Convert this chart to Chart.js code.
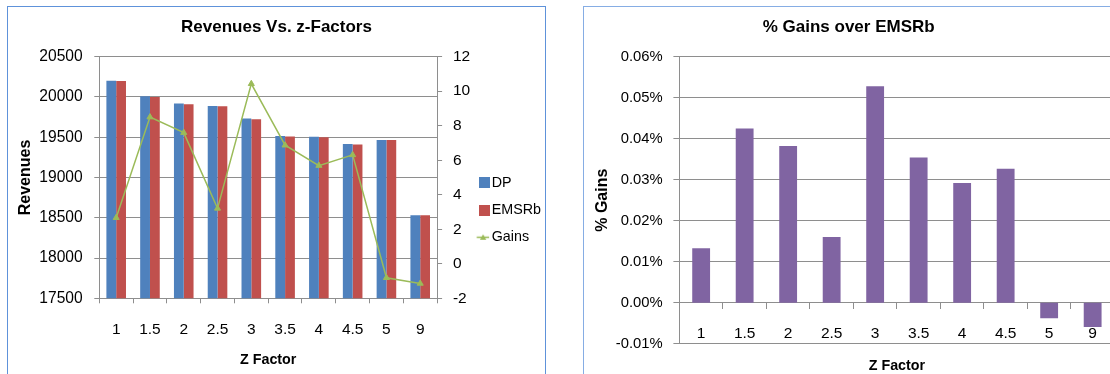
<!DOCTYPE html>
<html>
<head>
<meta charset="utf-8">
<script src="https://cdn.jsdelivr.net/npm/chart.js@4.4.1/dist/chart.umd.min.js"></script>
<style>
  html, body { margin: 0; padding: 0; background: #fff; overflow: hidden; width: 1110px; height: 374px; }
  .frame { position: absolute; box-sizing: border-box; border: 1px solid #5E92DA; height: 430px; }
  #frameRev { left: 7px; top: 6px; width: 539px; }
  #frameGain { left: 583px; top: 6px; width: 560px; border-color: #86ADE4; }
  canvas { position: absolute; }
  #revChart { left: 7px; top: 6px; }
  #gainChart { left: 583px; top: 6px; }
</style>
</head>
<body>
<div class="frame" id="frameRev"></div>
<div class="frame" id="frameGain"></div>
<canvas id="revChart" width="539" height="408"></canvas>
<canvas id="gainChart" width="538" height="368"></canvas>
<script>
// z-factor categories shared by both charts
const zFactors = ['1', '1.5', '2', '2.5', '3', '3.5', '4', '4.5', '5', '9'];

// total revenues per method
const revenueDP    = [20200, 20008, 19919, 19887, 19732, 19516, 19505, 19416, 19466, 18530];
const revenueEMSRb = [20197, 19999, 19911, 19884, 19722, 19509, 19499, 19410, 19467, 18531];

// absolute gain of DP over EMSRb (secondary axis)
const gains = [2.67, 8.50, 7.60, 3.21, 10.43, 6.87, 5.69, 6.31, -0.81, -1.14];

// gain of DP over EMSRb, in percent
const pctGains = [0.0133, 0.0425, 0.0382, 0.0160, 0.0528, 0.0354, 0.0292, 0.0327, -0.0038, -0.0059];

// axis ranges
const revenueRange = { min: 17500, max: 20500, step: 500 };
const gainRange = { min: -2, max: 12, step: 2 };
const pctRange = { min: -0.01, max: 0.06, step: 0.01 };

const gridGray = '#8E8E8E';
const sans = "'Liberation Sans', Arial, sans-serif";

// legend swatches, drawn centred on the legend marker position
function squareMark(color) {
  const c = document.createElement('canvas');
  c.width = 11; c.height = 11;
  const g = c.getContext('2d');
  g.fillStyle = color;
  g.fillRect(0, 0, 11, 11);
  return c;
}
function lineMark(color) {
  const c = document.createElement('canvas');
  c.width = 24; c.height = 9;
  const g = c.getContext('2d');
  g.strokeStyle = color; g.fillStyle = color; g.lineWidth = 1.5;
  g.beginPath(); g.moveTo(4.6, 4.5); g.lineTo(17, 4.5); g.stroke();
  g.beginPath(); g.moveTo(11, 1.5); g.lineTo(14.2, 7); g.lineTo(7.8, 7); g.closePath(); g.fill();
  return c;
}

const colDP = '#4F81BD', colEMSRb = '#C0504D', colGains = '#9BBB59', colPct = '#8064A2';
const legendMarks = [squareMark(colDP), squareMark(colEMSRb), lineMark(colGains)];

// keeps the right-hand legend column at a fixed width
const legendColumnWidth = 75.4;
const fixedLegendWidth = {
  id: 'fixedLegendWidth',
  afterInit(chart) {
    const lg = chart.legend;
    if (!lg) return;
    const fit = lg.fit;
    lg.fit = function () { fit.call(this); this.width = legendColumnWidth; };
  }
};

new Chart(document.getElementById('revChart'), {
  type: 'bar',
  data: {
    labels: zFactors,
    datasets: [
      { label: 'DP', data: revenueDP, backgroundColor: colDP, yAxisID: 'y', order: 2,
        categoryPercentage: 0.58, barPercentage: 1 },
      { label: 'EMSRb', data: revenueEMSRb, backgroundColor: colEMSRb, yAxisID: 'y', order: 2,
        categoryPercentage: 0.58, barPercentage: 1 },
      { type: 'line', label: 'Gains', data: gains, yAxisID: 'y1', order: 1,
        borderColor: colGains, backgroundColor: colGains, borderWidth: 1.5, tension: 0,
        pointStyle: 'triangle', pointRadius: 3.5, pointBorderWidth: 1,
        pointBackgroundColor: colGains, pointBorderColor: colGains }
    ]
  },
  plugins: [fixedLegendWidth],
  options: {
    responsive: false, animation: false, devicePixelRatio: 1,
    layout: { padding: 0 },
    plugins: {
      title: { display: true, text: 'Revenues Vs. z-Factors', color: '#000',
        font: { family: sans, size: 17, weight: 'bold' }, padding: { top: 10.8, bottom: 19.5 } },
      legend: {
        position: 'right', align: 'center',
        labels: {
          usePointStyle: true, pointStyleWidth: 1, boxWidth: 11, boxHeight: 11, padding: 13, color: '#000',
          font: { family: sans, size: 14.3 },
          generateLabels: chart => chart.data.datasets.map((ds, i) => ({
            text: ds.label, fillStyle: ds.backgroundColor, strokeStyle: ds.backgroundColor,
            lineWidth: 0, pointStyle: legendMarks[i], hidden: false, datasetIndex: i, fontColor: '#000'
          }))
        }
      },
      tooltip: { enabled: false }
    },
    scales: {
      x: {
        grid: { offset: true, drawOnChartArea: false, tickLength: 5, color: gridGray },
        border: { color: gridGray },
        ticks: { color: '#000', font: { family: sans, size: 15.5 }, padding: 17.4, maxRotation: 0, autoSkip: false },
        title: { display: true, text: 'Z Factor', color: '#000',
          font: { family: sans, size: 14.3, weight: 'bold' }, padding: { top: 0, bottom: 45 } },
        afterFit: s => { s.height = 115.7; }
      },
      y: {
        min: revenueRange.min, max: revenueRange.max,
        ticks: { stepSize: revenueRange.step, color: '#000', font: { family: sans, size: 15.6 }, padding: 11.6,
          callback: v => String(v) },
        grid: { color: gridGray, tickLength: 5 },
        border: { color: gridGray },
        title: { display: true, text: 'Revenues', color: '#000',
          font: { family: sans, size: 16, weight: 'bold' }, padding: { top: 9.1, bottom: 0 } },
        afterFit: s => { s.width = 92.3; }
      },
      y1: {
        position: 'right', min: gainRange.min, max: gainRange.max,
        ticks: { stepSize: gainRange.step, color: '#000', font: { family: sans, size: 15.5 }, padding: 10.8,
          callback: v => String(v) },
        grid: { drawOnChartArea: false, color: gridGray, tickLength: 5 },
        border: { color: gridGray },
        afterFit: s => { s.width = 33.5; }
      }
    }
  }
});

new Chart(document.getElementById('gainChart'), {
  type: 'bar',
  data: {
    labels: zFactors,
    datasets: [
      { label: '% Gains', data: pctGains, backgroundColor: colPct, barPercentage: 0.41, categoryPercentage: 1 }
    ]
  },
  options: {
    responsive: false, animation: false, devicePixelRatio: 1,
    layout: { padding: { top: 0, left: 0, right: 6.6, bottom: 30.3 } },
    plugins: {
      title: { display: true, text: '% Gains over EMSRb', color: '#000',
        font: { family: sans, size: 17, weight: 'bold' }, padding: { top: 10.8, bottom: 19.5 } },
      legend: { display: false },
      tooltip: { enabled: false }
    },
    scales: {
      x: {
        position: { y: 0 },
        grid: { offset: true, drawOnChartArea: false, tickLength: 6, color: gridGray },
        border: { color: gridGray },
        ticks: { color: '#000', font: { family: sans, size: 15.5 }, padding: 15.3, maxRotation: 0, autoSkip: false },
        title: { display: true, text: 'Z Factor', color: '#000',
          font: { family: sans, size: 14.3, weight: 'bold' }, padding: { top: 0, bottom: 47 } }
      },
      y: {
        min: pctRange.min, max: pctRange.max,
        ticks: { stepSize: pctRange.step, color: '#000', font: { family: sans, size: 14.8 }, padding: 10.7,
          callback: v => (Math.abs(v) < 1e-9 ? 0 : v).toFixed(2) + '%' },
        grid: { color: gridGray, tickLength: 6 },
        border: { color: gridGray },
        title: { display: true, text: '% Gains', color: '#000',
          font: { family: sans, size: 16, weight: 'bold' }, padding: { top: 9.6, bottom: 0 } },
        afterFit: s => { s.width = 96.4; }
      }
    }
  }
});
</script>
</body>
</html>
